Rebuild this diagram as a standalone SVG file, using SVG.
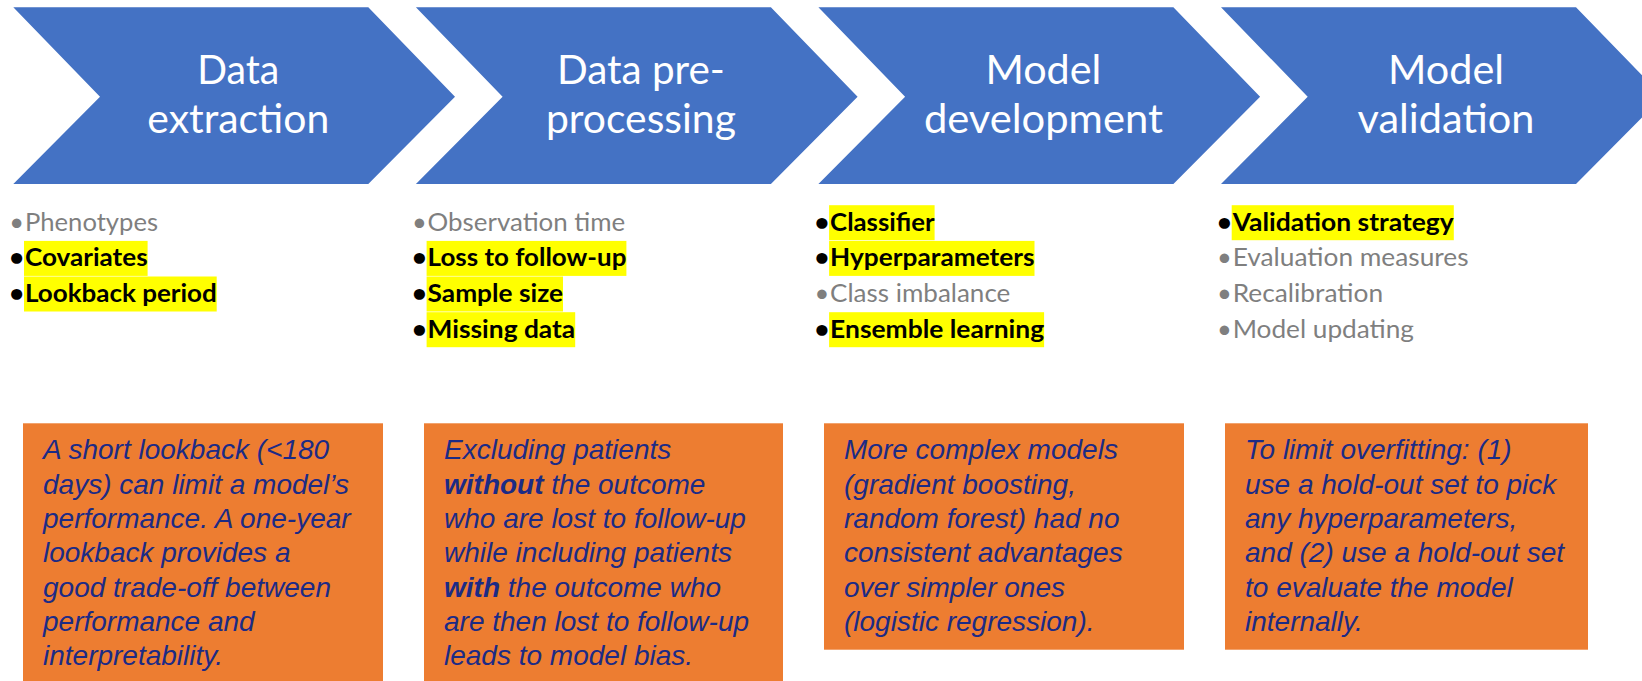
<svg xmlns="http://www.w3.org/2000/svg" width="1642" height="681" viewBox="0 0 1642 681">
  <style>
    .chev { fill: #4472C4; }
    .title { font-family: Lato, "Open Sans", "Liberation Sans", sans-serif; font-size: 40px; fill: #FFFFFF; text-anchor: middle; }
    .item { font-family: Lato, "Open Sans", "Liberation Sans", sans-serif; font-size: 25.5px; }
    .muted { fill: #7F7F7F; }
    .key { fill: #000000; font-weight: bold; }
    .hl { fill: #FFFF00; }
    .note { fill: #ED7D31; }
    .notetext { font-family: "Liberation Sans", Arial, sans-serif; font-size: 28px; font-style: italic; fill: #1C2B85; }
    .em { font-weight: bold; }
  </style>
  <defs>
    <!-- one chevron step: 355 wide body, 86.7 deep point -->
    <path id="chevron" d="M0 7.3 H355 L441.7 96.7 L355 184 H0 L86.7 96.7 Z"/>
  </defs>

  <!-- process steps -->
  <g id="step-extraction">
    <use href="#chevron" x="13.3" class="chev"/>
    <text class="title" x="238.3" y="84" textLength="82" lengthAdjust="spacingAndGlyphs">Data</text>
    <text class="title" x="238.3" y="133.3" textLength="182" lengthAdjust="spacingAndGlyphs">extraction</text>
  </g>
  <g id="step-preprocessing">
    <use href="#chevron" x="415.9" class="chev"/>
    <text class="title" x="640.9" y="84" textLength="168" lengthAdjust="spacingAndGlyphs">Data pre-</text>
    <text class="title" x="640.9" y="133.3" textLength="190" lengthAdjust="spacingAndGlyphs">processing</text>
  </g>
  <g id="step-development">
    <use href="#chevron" x="818.4" class="chev"/>
    <text class="title" x="1043.4" y="84" textLength="116" lengthAdjust="spacingAndGlyphs">Model</text>
    <text class="title" x="1043.4" y="133.3" textLength="239" lengthAdjust="spacingAndGlyphs">development</text>
  </g>
  <g id="step-validation">
    <use href="#chevron" x="1221" class="chev"/>
    <text class="title" x="1446" y="84" textLength="116" lengthAdjust="spacingAndGlyphs">Model</text>
    <text class="title" x="1446" y="133.3" textLength="177" lengthAdjust="spacingAndGlyphs">validation</text>
  </g>

  <!-- bullet lists -->
  <g id="list-extraction" class="item">
    <text class="muted" x="9.3" y="230.5">•</text>
    <text class="muted" x="25" y="230.5" textLength="133" lengthAdjust="spacingAndGlyphs">Phenotypes</text>
    <rect class="hl" x="24" y="240.9" width="123.6" height="35"/>
    <text class="key" x="9.3" y="266.2">•</text>
    <text class="key" x="25" y="266.2" textLength="122.6" lengthAdjust="spacingAndGlyphs">Covariates</text>
    <rect class="hl" x="24" y="276.5" width="192.7" height="35"/>
    <text class="key" x="9.3" y="301.8">•</text>
    <text class="key" x="25" y="301.8" textLength="191.7" lengthAdjust="spacingAndGlyphs">Lookback period</text>
  </g>
  <g id="list-preprocessing" class="item">
    <text class="muted" x="411.9" y="230.5">•</text>
    <text class="muted" x="427.6" y="230.5" textLength="197.7" lengthAdjust="spacingAndGlyphs">Observation time</text>
    <rect class="hl" x="426.6" y="240.9" width="199.8" height="35"/>
    <text class="key" x="411.9" y="266.2">•</text>
    <text class="key" x="427.6" y="266.2" textLength="198.8" lengthAdjust="spacingAndGlyphs">Loss to follow-up</text>
    <rect class="hl" x="426.6" y="276.5" width="136.4" height="35"/>
    <text class="key" x="411.9" y="301.8">•</text>
    <text class="key" x="427.6" y="301.8" textLength="135.4" lengthAdjust="spacingAndGlyphs">Sample size</text>
    <rect class="hl" x="426.6" y="312.2" width="148.6" height="35"/>
    <text class="key" x="411.9" y="337.5">•</text>
    <text class="key" x="427.6" y="337.5" textLength="147.6" lengthAdjust="spacingAndGlyphs">Missing data</text>
  </g>
  <g id="list-development" class="item">
    <rect class="hl" x="829.1" y="205.2" width="105.5" height="35"/>
    <text class="key" x="814.4" y="230.5">•</text>
    <text class="key" x="830.1" y="230.5" textLength="104.5" lengthAdjust="spacingAndGlyphs">Classifier</text>
    <rect class="hl" x="829.1" y="240.9" width="205.4" height="35"/>
    <text class="key" x="814.4" y="266.2">•</text>
    <text class="key" x="830.1" y="266.2" textLength="204.4" lengthAdjust="spacingAndGlyphs">Hyperparameters</text>
    <text class="muted" x="814.4" y="301.8">•</text>
    <text class="muted" x="830.1" y="301.8" textLength="180.2" lengthAdjust="spacingAndGlyphs">Class imbalance</text>
    <rect class="hl" x="829.1" y="312.2" width="215" height="35"/>
    <text class="key" x="814.4" y="337.5">•</text>
    <text class="key" x="830.1" y="337.5" textLength="214" lengthAdjust="spacingAndGlyphs">Ensemble learning</text>
  </g>
  <g id="list-validation" class="item">
    <rect class="hl" x="1231.7" y="205.2" width="222.1" height="35"/>
    <text class="key" x="1217" y="230.5">•</text>
    <text class="key" x="1232.7" y="230.5" textLength="221.1" lengthAdjust="spacingAndGlyphs">Validation strategy</text>
    <text class="muted" x="1217" y="266.2">•</text>
    <text class="muted" x="1232.7" y="266.2" textLength="235.9" lengthAdjust="spacingAndGlyphs">Evaluation measures</text>
    <text class="muted" x="1217" y="301.8">•</text>
    <text class="muted" x="1232.7" y="301.8" textLength="150.4" lengthAdjust="spacingAndGlyphs">Recalibration</text>
    <text class="muted" x="1217" y="337.5">•</text>
    <text class="muted" x="1232.7" y="337.5" textLength="181.3" lengthAdjust="spacingAndGlyphs">Model updating</text>
  </g>

  <!-- findings -->
  <g id="note-extraction">
    <rect class="note" x="23" y="423.3" width="360" height="258"/>
    <text class="notetext">
      <tspan x="43" y="459.3">A short lookback (&lt;180</tspan>
      <tspan x="43" y="493.6">days) can limit a model’s</tspan>
      <tspan x="43" y="527.9">performance. A one-year</tspan>
      <tspan x="43" y="562.2">lookback provides a</tspan>
      <tspan x="43" y="596.5">good trade-off between</tspan>
      <tspan x="43" y="630.8">performance and</tspan>
      <tspan x="43" y="665.1">interpretability.</tspan>
    </text>
  </g>
  <g id="note-preprocessing">
    <rect class="note" x="424" y="423.3" width="359" height="258"/>
    <text class="notetext">
      <tspan x="444" y="459.3">Excluding patients</tspan>
      <tspan x="444" y="493.6"><tspan class="em">without</tspan> the outcome</tspan>
      <tspan x="444" y="527.9">who are lost to follow-up</tspan>
      <tspan x="444" y="562.2">while including patients</tspan>
      <tspan x="444" y="596.5"><tspan class="em">with</tspan> the outcome who</tspan>
      <tspan x="444" y="630.8">are then lost to follow-up</tspan>
      <tspan x="444" y="665.1">leads to model bias.</tspan>
    </text>
  </g>
  <g id="note-development">
    <rect class="note" x="824" y="423.3" width="360" height="226.4"/>
    <text class="notetext">
      <tspan x="844" y="459.3">More complex models</tspan>
      <tspan x="844" y="493.6">(gradient boosting,</tspan>
      <tspan x="844" y="527.9">random forest) had no</tspan>
      <tspan x="844" y="562.2">consistent advantages</tspan>
      <tspan x="844" y="596.5">over simpler ones</tspan>
      <tspan x="844" y="630.8">(logistic regression).</tspan>
    </text>
  </g>
  <g id="note-validation">
    <rect class="note" x="1225" y="423.3" width="363" height="226.4"/>
    <text class="notetext">
      <tspan x="1245" y="459.3">To limit overfitting: (1)</tspan>
      <tspan x="1245" y="493.6">use a hold-out set to pick</tspan>
      <tspan x="1245" y="527.9">any hyperparameters,</tspan>
      <tspan x="1245" y="562.2">and (2) use a hold-out set</tspan>
      <tspan x="1245" y="596.5">to evaluate the model</tspan>
      <tspan x="1245" y="630.8">internally.</tspan>
    </text>
  </g>

  <!-- the steps sit side by side; no separate connector lines are drawn -->
  <g id="connectors"/>
</svg>
